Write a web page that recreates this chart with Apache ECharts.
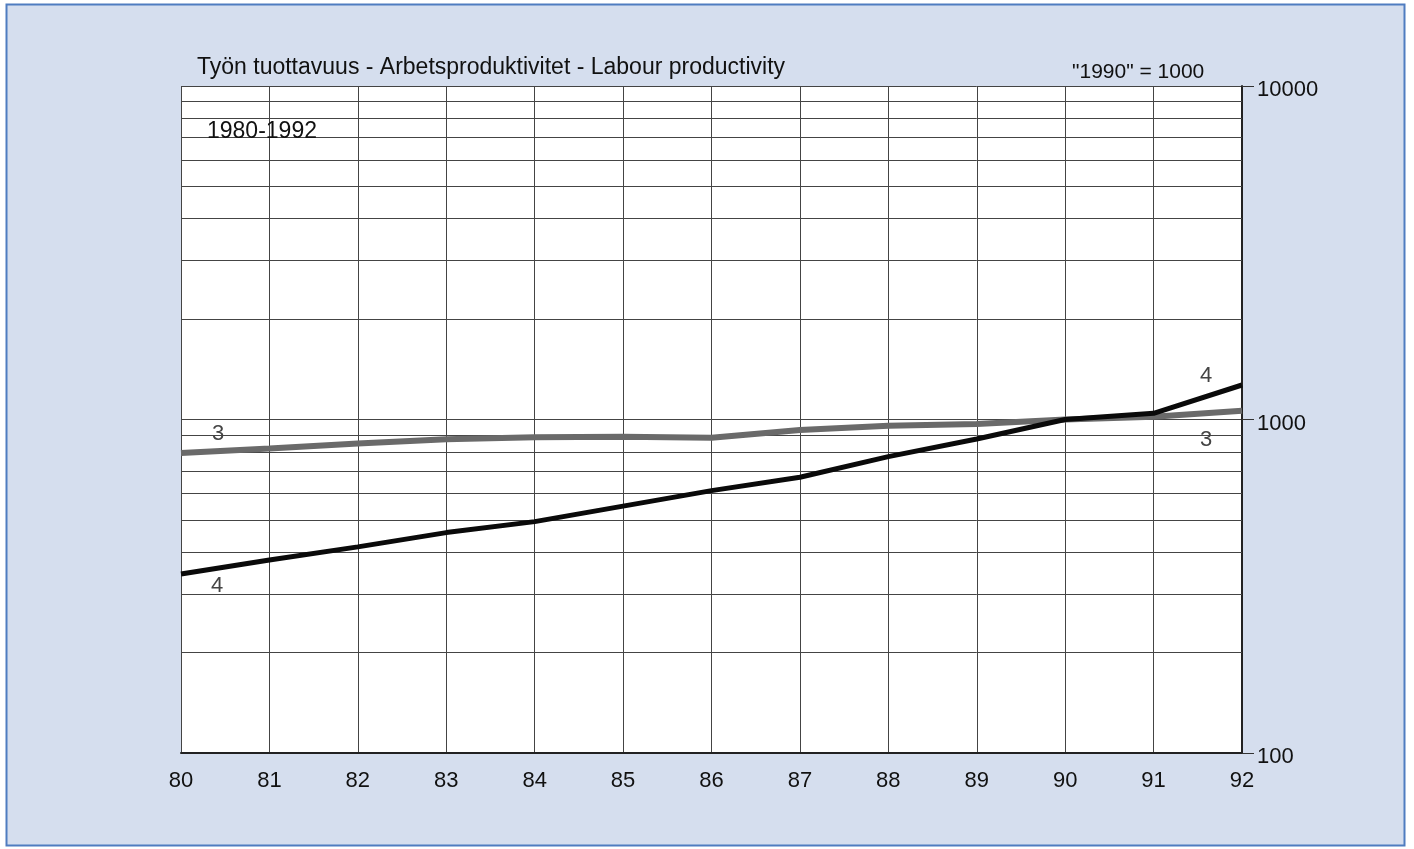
<!DOCTYPE html>
<html>
<head>
<meta charset="utf-8">
<title>Työn tuottavuus</title>
<script src="https://cdn.jsdelivr.net/npm/echarts@6/dist/echarts.min.js"></script>
<style>
  html, body { margin: 0; padding: 0; background: #ffffff; }
  #chart { width: 1414px; height: 849px; }
</style>
</head>
<body>
<div id="chart"></div>
<script>
// Years 1980-1992, shown as two-digit labels
const years = ['80', '81', '82', '83', '84', '85', '86', '87', '88', '89', '90', '91', '92'];

// Index, "1990" = 1000 (log scale)
const series3 = [794, 819, 848, 872, 885, 888, 882, 930, 958, 969, 1000, 1019, 1063];
const series4 = [344, 379, 415, 458, 494, 550, 612, 671, 774, 874, 1000, 1044, 1269];

// Log-axis minor grid values between the decades
const minorGrid = [200, 300, 400, 500, 600, 700, 800, 900,
                   2000, 3000, 4000, 5000, 6000, 7000, 8000, 9000];

const FONT = '"Liberation Sans", Arial, sans-serif';
const chart = echarts.init(document.getElementById('chart'));

function endTag(text, year, value, offset) {
  return {
    coord: [year, value],
    symbol: 'circle',
    symbolSize: 0,
    label: {
      show: true,
      formatter: text,
      offset: offset,
      color: '#444',
      fontFamily: FONT,
      fontWeight: 'lighter',
      fontSize: 22
    }
  };
}

chart.setOption({
  animation: false,
  backgroundColor: '#ffffff',
  graphic: [{
    type: 'rect',
    shape: { x: 6.5, y: 4.5, width: 1398, height: 841 },
    style: { fill: '#d5deee', stroke: '#4f7cc0', lineWidth: 2 },
    z: -10
  }],
  title: [{
    text: 'Työn tuottavuus - Arbetsproduktivitet - Labour productivity',
    left: 197, top: 56, padding: 0,
    textStyle: { fontFamily: FONT, fontWeight: 'normal', fontSize: 23, color: '#111' }
  }, {
    text: '"1990" = 1000',
    left: 1072, top: 62, padding: 0,
    textStyle: { fontFamily: FONT, fontWeight: 'normal', fontSize: 21, color: '#111' }
  }, {
    text: '1980-1992',
    left: 207, top: 120, padding: 0,
    textStyle: { fontFamily: FONT, fontWeight: 'normal', fontSize: 23, color: '#111' }
  }],
  grid: {
    left: 181, right: 172, top: 86, bottom: 96,
    show: true, backgroundColor: '#ffffff', borderWidth: 0
  },
  xAxis: {
    type: 'category',
    data: years,
    boundaryGap: false,
    axisLine: { show: true, lineStyle: { color: '#222', width: 2 } },
    axisTick: { show: false },
    axisLabel: { color: '#111', fontFamily: FONT, fontSize: 22, margin: 17 },
    splitLine: { show: true, lineStyle: { color: '#444', width: 1 } }
  },
  yAxis: {
    type: 'log',
    logBase: 10,
    min: 100,
    max: 10000,
    position: 'right',
    axisLine: { show: true, lineStyle: { color: '#222', width: 2 } },
    axisTick: { show: true, inside: false, length: 12, lineStyle: { color: '#333', width: 1 } },
    axisLabel: {
      color: '#111', fontFamily: FONT, fontSize: 22, margin: 15,
      formatter: v => '{v|' + Math.round(v) + '}',
      rich: {
        v: { color: '#111', fontFamily: FONT, fontSize: 22, padding: [8, 0, 0, 0] }
      }
    },
    splitLine: { show: true, lineStyle: { color: '#444', width: 1 } }
  },
  series: [{
    name: '3',
    type: 'line',
    data: series3,
    symbol: 'none',
    lineStyle: { color: '#6a6a6a', width: 6 },
    z: 3,
    markLine: {
      silent: true,
      symbol: ['none', 'none'],
      label: { show: false },
      lineStyle: { color: '#444', width: 1, type: 'solid' },
      data: minorGrid.map(v => ({ yAxis: v })),
      z: 1
    },
    markPoint: {
      silent: true,
      data: [
        endTag('3', '80', series3[0], [37, -19]),
        endTag('3', '92', series3[12], [-36, 29])
      ]
    }
  }, {
    name: '4',
    type: 'line',
    data: series4,
    symbol: 'none',
    lineStyle: { color: '#0a0a0a', width: 5 },
    z: 4,
    markPoint: {
      silent: true,
      data: [
        endTag('4', '80', series4[0], [36, 12]),
        endTag('4', '92', series4[12], [-36, -9])
      ]
    }
  }]
});
</script>
</body>
</html>
